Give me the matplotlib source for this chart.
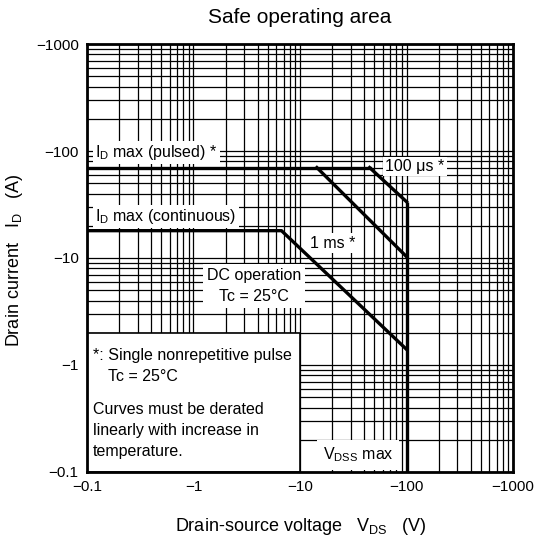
import numpy as np
import matplotlib.pyplot as plt
from matplotlib.patches import Rectangle

plt.rcParams['font.family'] = ['Liberation Sans', 'DejaVu Sans']
plt.rcParams['mathtext.fontset'] = 'custom'
plt.rcParams['mathtext.rm'] = 'Liberation Sans'

# dados (valores absolutos, V e A)
pulsed_v = [0.1, 45]
pulsed_i = [70, 70]
us100_v = [45, 100]
us100_i = [70, 33.6]
ms1_v = [14.4, 100]
ms1_i = [70, 10.3]
dc_v = [0.1, 6.7, 100]
dc_i = [18, 18, 1.4]
vdss_v = [100, 100]
vdss_i = [33.6, 0.1]

tick_vals = [0.1, 1, 10, 100, 1000]
tick_labels = ['\u22120.1', '\u22121', '\u221210', '\u2212100', '\u22121000']

fig = plt.figure(figsize=(5.35, 5.42), dpi=100)
ax = fig.add_axes([0.1626, 0.1292, 0.7963, 0.7896])
ax.set_xscale('log')
ax.set_yscale('log')
ax.set_xlim(0.1, 1000)
ax.set_ylim(0.1, 1000)

ax.grid(which='both', color='black', lw=0.9)
ax.set_axisbelow(True)
ax.set_xticks(tick_vals)
ax.set_xticklabels(tick_labels)
ax.set_yticks(tick_vals)
ax.set_yticklabels(tick_labels)
ax.tick_params(which='both', length=0, labelsize=11, pad=6)
for s in ax.spines.values():
    s.set_linewidth(2)

lw = 2.4
ax.plot(pulsed_v, pulsed_i, 'k-', lw=lw, zorder=3)
ax.plot(us100_v, us100_i, 'k-', lw=lw, zorder=3)
ax.plot(ms1_v, ms1_i, 'k-', lw=lw, zorder=3)
ax.plot(dc_v, dc_i, 'k-', lw=lw, zorder=3)
ax.plot(vdss_v, vdss_i, 'k-', lw=lw, zorder=3, solid_capstyle='butt')

# caixa branca das notas
ax.add_patch(Rectangle((0.1, 0.1), 9.9, 1.9, facecolor='white',
                       edgecolor='black', lw=1.2, zorder=2))

box = dict(facecolor='white', edgecolor='none', pad=1.5)
fs = 11.5
ax.text(0.12, 97, r'I$_\mathrm{D}$ max (pulsed) *', fontsize=fs, ha='left', va='center', bbox=box, zorder=4)
ax.text(0.12, 24.3, r'I$_\mathrm{D}$ max (continuous)', fontsize=fs, ha='left', va='center', bbox=box, zorder=4)
ax.text(120, 71, '100 \u03bcs *', fontsize=fs, ha='center', va='center', bbox=box, zorder=4)
ax.text(20.4, 13.8, '1 ms *', fontsize=fs, ha='center', va='center', bbox=box, zorder=4)
ax.text(3.7, 5.45, 'DC operation\nTc = 25\u00b0C', fontsize=fs, ha='center', va='center',
        linespacing=1.45, bbox=dict(facecolor='white', edgecolor='none', pad=3), zorder=4)
ax.text(35, 0.145, r'V$_\mathrm{DSS}$ max', fontsize=fs, ha='center', va='center',
        bbox=dict(facecolor='white', edgecolor='none', pad=4), zorder=4)

tr = ax.transAxes
ax.text(0.013, 0.271, '*: Single nonrepetitive pulse', fontsize=fs, transform=tr, va='center', zorder=4)
ax.text(0.05, 0.222, 'Tc = 25\u00b0C', fontsize=fs, transform=tr, va='center', zorder=4)
ax.text(0.013, 0.145, 'Curves must be derated', fontsize=fs, transform=tr, va='center', zorder=4)
ax.text(0.013, 0.096, 'linearly with increase in', fontsize=fs, transform=tr, va='center', zorder=4)
ax.text(0.013, 0.047, 'temperature.', fontsize=fs, transform=tr, va='center', zorder=4)

fig.text(0.561, 0.967, 'Safe operating area', fontsize=15, ha='center', va='center')
fig.text(0.561, 0.028, r'Drain-source voltage   V$_\mathrm{DS}$   (V)', fontsize=13, ha='center', va='center')
fig.text(0.028, 0.52, r'Drain current   I$_\mathrm{D}$   (A)', fontsize=13, ha='center', va='center', rotation=90)

fig.savefig('out.png', dpi=100)
